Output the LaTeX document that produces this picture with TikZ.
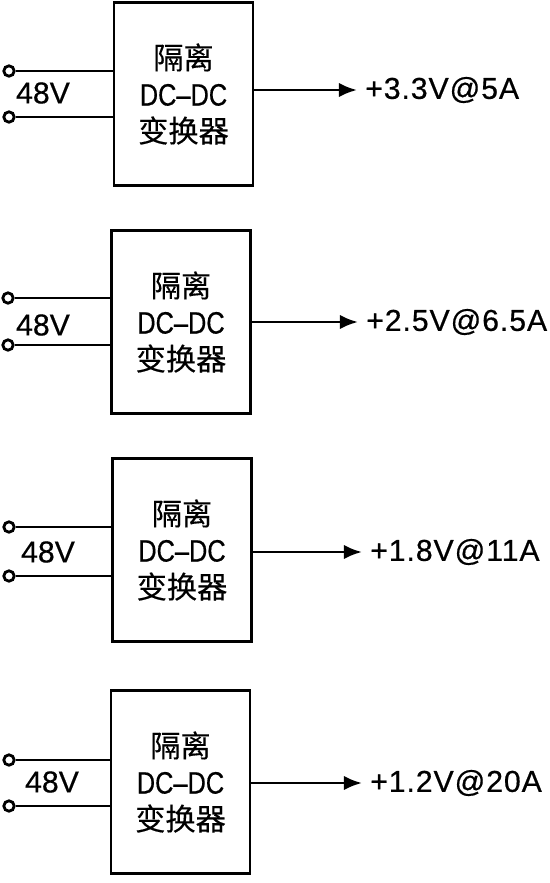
\documentclass[tikz,border=0pt]{standalone}
\usepackage{fontspec}
\setmainfont[FakeBold=0.5]{Liberation Sans}
\newfontfamily\cjk[FakeBold=0.4]{Noto Sans CJK SC}
\newfontfamily\condfont[FakeStretch=0.82,FakeBold=0.5]{Liberation Sans}
\newfontfamily\outfont[FakeBold=0.5,LetterSpace=3]{Liberation Sans}
\usetikzlibrary{arrows.meta}
\tikzset{
  conv/.style={rectangle, draw=black, line width=2pt, minimum width=3.475cm,
               minimum height=4.575cm, align=center, inner sep=0pt,
               font=\fontsize{21.5}{26}\selectfont},
  term/.style={circle, draw=black, line width=2pt, fill=white,
               minimum size=0.26cm, inner sep=0pt},
  wire/.style={line width=2pt},
  outarrow/.style={line width=2pt, -{Latex[length=4.5mm,width=3.6mm]}},
  vout/.style={anchor=west, inner sep=0.2cm, font=\outfont\fontsize{21.5}{24}\selectfont},
  vin/.style={font=\fontsize{21.5}{24}\selectfont, inner sep=0pt}
}
\newcommand{\convtext}{{\cjk 隔离}\\{\condfont\fontsize{22}{26}\selectfont DC–DC}\\{\cjk 变换器}}

\begin{document}
\begin{tikzpicture}[x=0.025cm, y=-0.025cm]
  \useasboundingbox (0,0) rectangle (550,883);

  % first converter
  \node[conv] (b1) at (183.5,94) {\convtext};
  \node[term] (t1a) at (9,71) {};
  \node[term] (t1b) at (9,117) {};
  \node[vin]  (in1) at (43,93) {48V};
  \node[vout] (v1)  at (357,90) {+3.3V@5A};
  \draw[wire] (t1a) -- (t1a -| b1.west);
  \draw[wire] (t1b) -- (t1b -| b1.west);
  \draw[outarrow] (b1.east |- v1.west) -- (v1.west);

  % second converter
  \node[conv] (b2) at (181,322) {\convtext};
  \node[term] (t2a) at (8,298) {};
  \node[term] (t2b) at (8,345) {};
  \node[vin]  (in2) at (43,325) {48V};
  \node[vout] (v2)  at (358,322) {+2.5V@6.5A};
  \draw[wire] (t2a) -- (t2a -| b2.west);
  \draw[wire] (t2b) -- (t2b -| b2.west);
  \draw[outarrow] (b2.east |- v2.west) -- (v2.west);

  % third converter
  \node[conv] (b3) at (182,550) {\convtext};
  \node[term] (t3a) at (9,527) {};
  \node[term] (t3b) at (9,576) {};
  \node[vin]  (in3) at (48,552) {48V};
  \node[vout] (v3)  at (362,552) {+1.8V@11A};
  \draw[wire] (t3a) -- (t3a -| b3.west);
  \draw[wire] (t3b) -- (t3b -| b3.west);
  \draw[outarrow] (b3.east |- v3.west) -- (v3.west);

  % fourth converter
  \node[conv] (b4) at (180.5,782) {\convtext};
  \node[term] (t4a) at (9,760) {};
  \node[term] (t4b) at (9,806) {};
  \node[vin]  (in4) at (52,782) {48V};
  \node[vout] (v4)  at (362,783) {+1.2V@20A};
  \draw[wire] (t4a) -- (t4a -| b4.west);
  \draw[wire] (t4b) -- (t4b -| b4.west);
  \draw[outarrow] (b4.east |- v4.west) -- (v4.west);
\end{tikzpicture}
\end{document}
